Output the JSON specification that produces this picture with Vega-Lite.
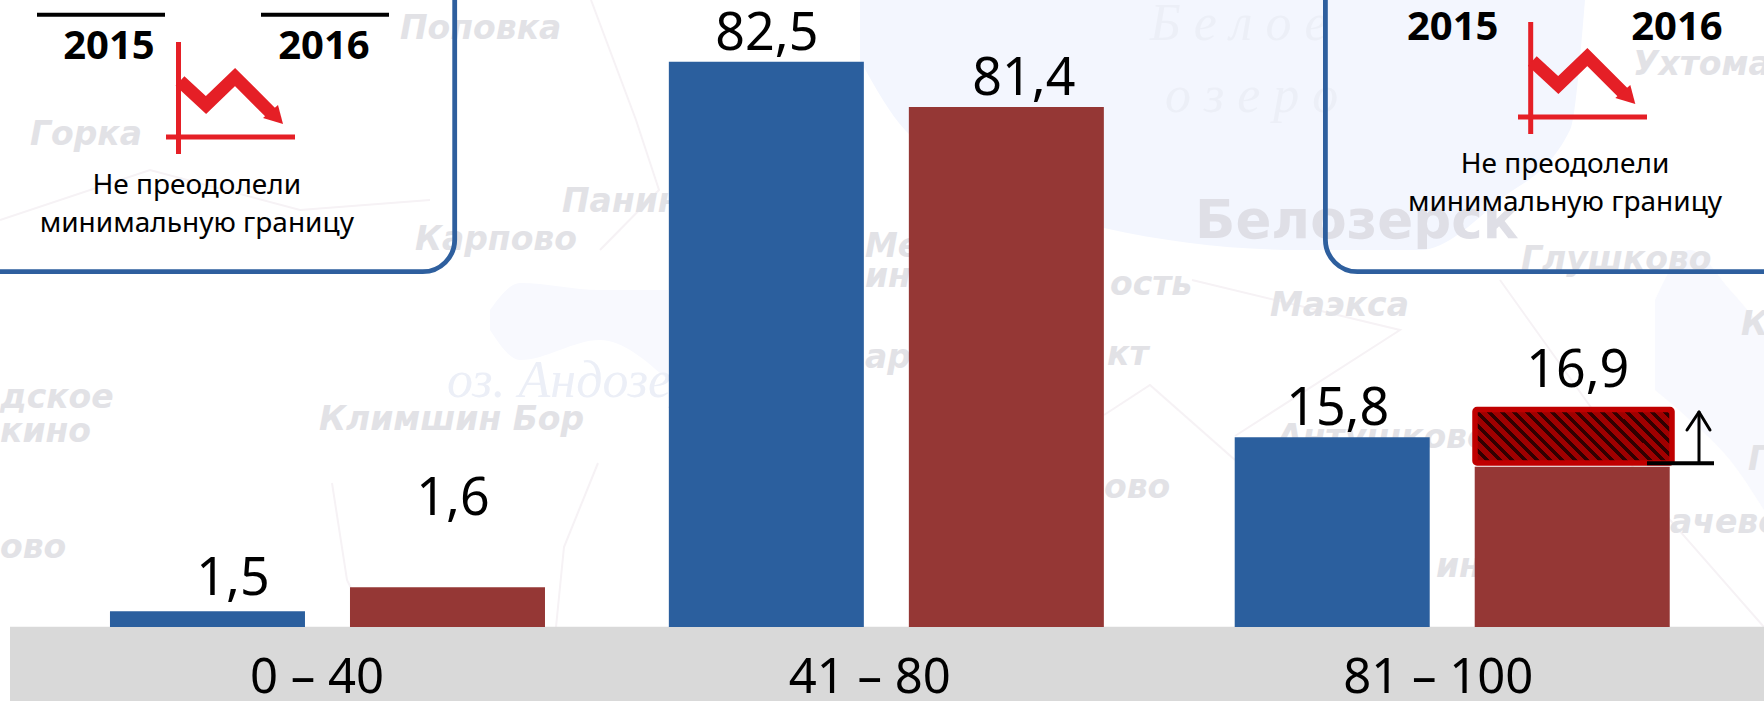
{
"$schema":"https://vega.github.io/schema/vega-lite/v6.json",
"width":1764,"height":627,
"autosize":"none",
"padding":{"left":0,"top":0,"right":0,"bottom":74},
"background":"#FFFFFF",
"config":{"view":{"stroke":null}},
"datasets":{
"bars":[
{"group":"0 – 40","year":"2015","value":1.5,"label":"1,5","drawn":2.3,"labelLevel":4.67},
{"group":"0 – 40","year":"2016","value":1.6,"label":"1,6","drawn":5.8,"labelLevel":16.35},
{"group":"41 – 80","year":"2015","value":82.5,"label":"82,5","drawn":82.5,"labelLevel":84.2},
{"group":"41 – 80","year":"2016","value":81.4,"label":"81,4","drawn":75.9,"labelLevel":77.7},
{"group":"81 – 100","year":"2015","value":15.8,"label":"15,8","drawn":27.7,"labelLevel":29.5},
{"group":"81 – 100","year":"2016","value":16.9,"label":"16,9","drawn":23.4,"labelLevel":35}
],
"map":[
{"t":"Поповка","x":400,"y":39,"k":"town"},
{"t":"Горка","x":30,"y":145,"k":"town"},
{"t":"Панино","x":562,"y":212,"k":"town"},
{"t":"Карпово","x":415,"y":250,"k":"town"},
{"t":"Глушково","x":1521,"y":270,"k":"town"},
{"t":"Маэкса","x":1270,"y":316,"k":"town"},
{"t":"Ухтома","x":1633,"y":75,"k":"town"},
{"t":"Антушково","x":1277,"y":448,"k":"town"},
{"t":"дское","x":0,"y":408,"k":"town"},
{"t":"кино","x":0,"y":442,"k":"town"},
{"t":"ово","x":0,"y":558,"k":"town"},
{"t":"Климшин Бор","x":319,"y":430,"k":"town"},
{"t":"ово","x":1104,"y":498,"k":"town"},
{"t":"ость","x":1110,"y":295,"k":"town"},
{"t":"кт","x":1107,"y":365,"k":"town"},
{"t":"Ме","x":865,"y":257,"k":"town"},
{"t":"ин","x":865,"y":287,"k":"town"},
{"t":"ар","x":865,"y":368,"k":"town"},
{"t":"ин","x":1436,"y":577,"k":"town"},
{"t":"ачево","x":1670,"y":533,"k":"town"},
{"t":"К","x":1741,"y":335,"k":"town"},
{"t":"Г","x":1748,"y":470,"k":"town"},
{"t":"Белозерск","x":1195,"y":238,"k":"city"},
{"t":"Б е л о е","x":1150,"y":40,"k":"lake"},
{"t":"о з е р о","x":1165,"y":112,"k":"lake"},
{"t":"оз. Андозеро","x":447,"y":397,"k":"lake"}
],
"water":[
{"w":"a","x":860,"y":0,"y2":60},
{"w":"a","x":905,"y":0,"y2":130},
{"w":"a","x":1000,"y":0,"y2":180},
{"w":"a","x":1104,"y":0,"y2":228},
{"w":"a","x":1300,"y":0,"y2":250},
{"w":"a","x":1420,"y":0,"y2":250},
{"w":"a","x":1500,"y":0,"y2":200},
{"w":"a","x":1570,"y":0,"y2":130},
{"w":"a","x":1585,"y":0,"y2":0}
],
"ponds":[
{"w":"b","x":490,"y":310,"y2":330},
{"w":"b","x":520,"y":283,"y2":360},
{"w":"b","x":600,"y":290,"y2":340},
{"w":"b","x":668,"y":290,"y2":380},
{"w":"c","x":1655,"y":300,"y2":390},
{"w":"c","x":1690,"y":250,"y2":420},
{"w":"c","x":1730,"y":290,"y2":460},
{"w":"c","x":1764,"y":330,"y2":510}
],
"roads":[
{"r":1,"i":1,"x":591,"y":0},{"r":1,"i":2,"x":636,"y":120},{"r":1,"i":3,"x":659,"y":190},{"r":1,"i":4,"x":600,"y":250},
{"r":2,"i":1,"x":332,"y":483},{"r":2,"i":2,"x":347,"y":580},{"r":2,"i":3,"x":370,"y":627},
{"r":3,"i":1,"x":598,"y":463},{"r":3,"i":2,"x":564,"y":547},{"r":3,"i":3,"x":556,"y":627},
{"r":4,"i":1,"x":1192,"y":280},{"r":4,"i":2,"x":1400,"y":330},{"r":4,"i":3,"x":1235,"y":436},
{"r":5,"i":1,"x":1104,"y":415},{"r":5,"i":2,"x":1150,"y":385},{"r":5,"i":3,"x":1235,"y":460},
{"r":6,"i":1,"x":1500,"y":280},{"r":6,"i":2,"x":1600,"y":420},{"r":6,"i":3,"x":1670,"y":520},{"r":6,"i":4,"x":1764,"y":627},
{"r":7,"i":1,"x":0,"y":220},{"r":7,"i":2,"x":150,"y":170},{"r":7,"i":3,"x":300,"y":210},{"r":7,"i":4,"x":430,"y":200}
],
"boxes":[
{"b":"left","x":-40,"x2":454.7,"y":-40,"y2":271.7},
{"b":"right","x":1325.4,"x2":1810,"y":-40,"y2":271.7}
],
"rules":[
{"k":"black","x":37,"x2":165,"y":14.7,"y2":14.7},
{"k":"black","x":261,"x2":389,"y":14.7,"y2":14.7},
{"k":"red","x":178.5,"x2":178.5,"y":42,"y2":154},
{"k":"red","x":166,"x2":295,"y":137,"y2":137},
{"k":"red","x":1530.7,"x2":1530.7,"y":22,"y2":134},
{"k":"red","x":1518,"x2":1647,"y":117,"y2":117}
],
"zig":[
{"icon":"left","x":180,"y":81},{"icon":"left","x":206,"y":105},{"icon":"left","x":235,"y":77},{"icon":"left","x":272,"y":114},
{"icon":"right","x":1532.3,"y":61},{"icon":"right","x":1558.3,"y":85},{"icon":"right","x":1587.3,"y":57},{"icon":"right","x":1624.3,"y":94}
],
"heads":[
{"icon":"left","x":263,"y":118,"y2":118},{"icon":"left","x":278,"y":105,"y2":122.6},{"icon":"left","x":283,"y":124,"y2":124},
{"icon":"right","x":1615.3,"y":98,"y2":98},{"icon":"right","x":1630.3,"y":85,"y2":102.6},{"icon":"right","x":1635.3,"y":104,"y2":104}
],
"notes":[
{"t":"2015","x":109,"y":59,"k":"year"},
{"t":"2016","x":324,"y":59,"k":"year"},
{"t":"2015","x":1452.7,"y":40,"k":"year"},
{"t":"2016","x":1677,"y":40,"k":"year"},
{"t":"Не преодолели","x":196.8,"y":194,"k":"body"},
{"t":"минимальную границу","x":196.8,"y":231.7,"k":"body"},
{"t":"Не преодолели","x":1565,"y":172.7,"k":"body"},
{"t":"минимальную границу","x":1565,"y":210.7,"k":"body"}
],
"strip":[{"x":10,"x2":1800,"y":626.7,"y2":720}],
"hatch":[{"x":1475,"x2":1672,"y":409.5,"y2":463}],
"limit":[
{"k":"base","x":1647,"x2":1714,"y":463.3,"y2":463.3},
{"k":"arrow","x":1699,"x2":1699,"y":463,"y2":413},
{"k":"arrow","x":1699,"x2":1687,"y":412,"y2":430},
{"k":"arrow","x":1699,"x2":1710,"y":412,"y2":430}
]
},
"resolve":{"scale":{"x":"independent","y":"independent"}},
"layer":[
{
"encoding":{
"x":{"field":"x","type":"quantitative","axis":null,"scale":{"domain":[0,1764],"range":[0,1764],"nice":false,"zero":false}},
"y":{"field":"y","type":"quantitative","axis":null,"scale":{"domain":[0,627],"range":[0,627],"nice":false,"zero":false}}
},
"layer":[
{"data":{"name":"water"},"mark":{"type":"area","color":"#F3F6FE","interpolate":"monotone"},"encoding":{"y2":{"field":"y2"},"detail":{"field":"w"}}},
{"data":{"name":"ponds"},"mark":{"type":"area","color":"#F8F9FE","interpolate":"monotone"},"encoding":{"y2":{"field":"y2"},"detail":{"field":"w"}}},
{"data":{"name":"roads"},"mark":{"type":"line","color":"#F6F2F5","strokeWidth":2},"encoding":{"detail":{"field":"r"},"order":{"field":"i"}}},
{"data":{"name":"map"},"transform":[{"filter":"datum.k=='town'"}],"mark":{"type":"text","font":"DejaVu Sans","fontWeight":"bold","fontStyle":"italic","fontSize":33,"align":"left","baseline":"alphabetic","color":"#E2E2E6"},"encoding":{"text":{"field":"t"}}},
{"data":{"name":"map"},"transform":[{"filter":"datum.k=='city'"}],"mark":{"type":"text","font":"DejaVu Sans","fontWeight":"bold","fontSize":53,"align":"left","baseline":"alphabetic","color":"#DFDFE6"},"encoding":{"text":{"field":"t"}}},
{"data":{"name":"map"},"transform":[{"filter":"datum.k=='lake'"}],"mark":{"type":"text","font":"Liberation Serif","fontStyle":"italic","fontSize":52,"align":"left","baseline":"alphabetic","color":"#ECEFF7"},"encoding":{"text":{"field":"t"}}},
{"data":{"name":"boxes"},"mark":{"type":"rect","fill":null,"stroke":"#2E5F9E","strokeWidth":4.8,"cornerRadius":32},"encoding":{"x2":{"field":"x2"},"y2":{"field":"y2"}}},
{"data":{"name":"rules"},"transform":[{"filter":"datum.k=='black'"}],"mark":{"type":"rule","color":"#000000","strokeWidth":4},"encoding":{"x2":{"field":"x2"},"y2":{"field":"y2"}}},
{"data":{"name":"rules"},"transform":[{"filter":"datum.k=='red'"}],"mark":{"type":"rule","color":"#E51F26","strokeWidth":5},"encoding":{"x2":{"field":"x2"},"y2":{"field":"y2"}}},
{"data":{"name":"zig"},"mark":{"type":"line","color":"#E51F26","strokeWidth":13,"strokeJoin":"miter","strokeCap":"butt"},"encoding":{"detail":{"field":"icon"}}},
{"data":{"name":"heads"},"mark":{"type":"area","color":"#E51F26"},"encoding":{"y2":{"field":"y2"},"detail":{"field":"icon"}}},
{"data":{"name":"notes"},"transform":[{"filter":"datum.k=='year'"}],"mark":{"type":"text","font":"Noto Sans","fontWeight":"bold","fontSize":40,"align":"center","baseline":"alphabetic","color":"#000000"},"encoding":{"text":{"field":"t"}}},
{"data":{"name":"notes"},"transform":[{"filter":"datum.k=='body'"}],"mark":{"type":"text","font":"Noto Sans","fontSize":28,"align":"center","baseline":"alphabetic","color":"#000000"},"encoding":{"text":{"field":"t"}}},
{"data":{"name":"strip"},"mark":{"type":"rect","color":"#D9D9D9"},"encoding":{"x2":{"field":"x2"},"y2":{"field":"y2"}}}
]
},
{
"data":{"name":"bars"},
"transform":[{"filter":"datum.group=='41 – 80'"}],
"mark":{"type":"bar"},
"encoding":{
"x":{"field":"group","type":"nominal","sort":null,"axis":null,
"scale":{"type":"band","domain":["0 – 40","41 – 80","81 – 100"],"range":[42.8,1729.9],"paddingInner":0,"paddingOuter":0}},
"xOffset":{"field":"year","type":"nominal","scale":{"domain":["2015","2016"],"paddingInner":0.1875,"paddingOuter":0.2653}},
"y":{"field":"drawn","type":"quantitative","axis":null,"scale":{"domain":[0,91.53],"nice":false,"zero":true}},
"color":{"field":"year","type":"nominal","legend":null,"scale":{"domain":["2015","2016"],"range":["#2B5F9E","#953735"]}}
}
},
{
"data":{"name":"bars"},
"encoding":{
"x":{"field":"group","type":"nominal","sort":null,"title":null,
"scale":{"type":"band","domain":["0 – 40","41 – 80","81 – 100"],"range":[46.3,1733.4],"paddingInner":0,"paddingOuter":0},
"axis":{"orient":"bottom","domain":false,"ticks":false,"tickSize":0,"grid":false,"title":null,"labelAngle":0,"labelOverlap":false,"labelBound":false,"labelFlush":false,"labelLimit":600,"labelFont":"Noto Sans","labelFontSize":49,"labelColor":"#000000","labelBaseline":"alphabetic","labelPadding":65,"zindex":1,
"labelOffset":{"expr":"datum.value=='0 – 40'?-10.5:datum.value=='41 – 80'?-20:-14"}}},
"xOffset":{"field":"year","type":"nominal","scale":{"domain":["2015","2016"],"paddingInner":0.1875,"paddingOuter":0.2653}},
"y":{"field":"drawn","type":"quantitative","axis":null,"scale":{"domain":[0,91.53],"nice":false,"zero":true}},
"color":{"field":"year","type":"nominal","legend":null,"scale":{"domain":["2015","2016"],"range":["#2B5F9E","#953735"]}}
},
"layer":[
{"transform":[{"filter":"datum.group!='41 – 80'"}],"mark":{"type":"bar"}},
{"transform":[{"filter":"datum.label=='1,5'"}],"mark":{"type":"text","dx":25.5,"font":"Noto Sans","fontSize":52,"align":"center","baseline":"alphabetic"},"encoding":{"y":{"field":"labelLevel","type":"quantitative"},"text":{"field":"label"},"color":{"value":"#000000"}}},
{"transform":[{"filter":"datum.label=='1,6'||datum.label=='15,8'||datum.label=='16,9'"}],"mark":{"type":"text","dx":5.5,"font":"Noto Sans","fontSize":52,"align":"center","baseline":"alphabetic"},"encoding":{"y":{"field":"labelLevel","type":"quantitative"},"text":{"field":"label"},"color":{"value":"#000000"}}},
{"transform":[{"filter":"datum.label=='82,5'"}],"mark":{"type":"text","dx":-3,"font":"Noto Sans","fontSize":52,"align":"center","baseline":"alphabetic"},"encoding":{"y":{"field":"labelLevel","type":"quantitative"},"text":{"field":"label"},"color":{"value":"#000000"}}},
{"transform":[{"filter":"datum.label=='81,4'"}],"mark":{"type":"text","dx":14,"font":"Noto Sans","fontSize":52,"align":"center","baseline":"alphabetic"},"encoding":{"y":{"field":"labelLevel","type":"quantitative"},"text":{"field":"label"},"color":{"value":"#000000"}}}
]
},
{
"encoding":{
"x":{"field":"x","type":"quantitative","axis":null,"scale":{"domain":[0,1764],"range":[0,1764],"nice":false,"zero":false}},
"y":{"field":"y","type":"quantitative","axis":null,"scale":{"domain":[0,627],"range":[0,627],"nice":false,"zero":false}}
},
"layer":[
{"data":{"name":"hatch"},"mark":{"type":"rect","stroke":"#C00000","strokeWidth":5.5,"cornerRadius":2,"fill":{"gradient":"linear","x1":0,"y1":1,"x2":1.185,"y2":0.678,"stops":[
{"offset":0,"color":"#300000"},{"offset":0.02,"color":"#300000"},{"offset":0.02,"color":"#A00000"},{"offset":0.05,"color":"#A00000"},
{"offset":0.05,"color":"#300000"},{"offset":0.07,"color":"#300000"},{"offset":0.07,"color":"#A00000"},{"offset":0.1,"color":"#A00000"},
{"offset":0.1,"color":"#300000"},{"offset":0.12,"color":"#300000"},{"offset":0.12,"color":"#A00000"},{"offset":0.15,"color":"#A00000"},
{"offset":0.15,"color":"#300000"},{"offset":0.17,"color":"#300000"},{"offset":0.17,"color":"#A00000"},{"offset":0.2,"color":"#A00000"},
{"offset":0.2,"color":"#300000"},{"offset":0.22,"color":"#300000"},{"offset":0.22,"color":"#A00000"},{"offset":0.25,"color":"#A00000"},
{"offset":0.25,"color":"#300000"},{"offset":0.27,"color":"#300000"},{"offset":0.27,"color":"#A00000"},{"offset":0.3,"color":"#A00000"},
{"offset":0.3,"color":"#300000"},{"offset":0.32,"color":"#300000"},{"offset":0.32,"color":"#A00000"},{"offset":0.35,"color":"#A00000"},
{"offset":0.35,"color":"#300000"},{"offset":0.37,"color":"#300000"},{"offset":0.37,"color":"#A00000"},{"offset":0.4,"color":"#A00000"},
{"offset":0.4,"color":"#300000"},{"offset":0.42,"color":"#300000"},{"offset":0.42,"color":"#A00000"},{"offset":0.45,"color":"#A00000"},
{"offset":0.45,"color":"#300000"},{"offset":0.47,"color":"#300000"},{"offset":0.47,"color":"#A00000"},{"offset":0.5,"color":"#A00000"},
{"offset":0.5,"color":"#300000"},{"offset":0.52,"color":"#300000"},{"offset":0.52,"color":"#A00000"},{"offset":0.55,"color":"#A00000"},
{"offset":0.55,"color":"#300000"},{"offset":0.57,"color":"#300000"},{"offset":0.57,"color":"#A00000"},{"offset":0.6,"color":"#A00000"},
{"offset":0.6,"color":"#300000"},{"offset":0.62,"color":"#300000"},{"offset":0.62,"color":"#A00000"},{"offset":0.65,"color":"#A00000"},
{"offset":0.65,"color":"#300000"},{"offset":0.67,"color":"#300000"},{"offset":0.67,"color":"#A00000"},{"offset":0.7,"color":"#A00000"},
{"offset":0.7,"color":"#300000"},{"offset":0.72,"color":"#300000"},{"offset":0.72,"color":"#A00000"},{"offset":0.75,"color":"#A00000"},
{"offset":0.75,"color":"#300000"},{"offset":0.77,"color":"#300000"},{"offset":0.77,"color":"#A00000"},{"offset":0.8,"color":"#A00000"},
{"offset":0.8,"color":"#300000"},{"offset":0.82,"color":"#300000"},{"offset":0.82,"color":"#A00000"},{"offset":0.85,"color":"#A00000"},
{"offset":0.85,"color":"#300000"},{"offset":0.87,"color":"#300000"},{"offset":0.87,"color":"#A00000"},{"offset":0.9,"color":"#A00000"},
{"offset":0.9,"color":"#300000"},{"offset":0.92,"color":"#300000"},{"offset":0.92,"color":"#A00000"},{"offset":0.95,"color":"#A00000"},
{"offset":0.95,"color":"#300000"},{"offset":0.97,"color":"#300000"},{"offset":0.97,"color":"#A00000"},{"offset":1,"color":"#A00000"}
]}},"encoding":{"x2":{"field":"x2"},"y2":{"field":"y2"}}},
{"data":{"name":"limit"},"transform":[{"filter":"datum.k=='base'"}],"mark":{"type":"rule","color":"#000000","strokeWidth":4},"encoding":{"x2":{"field":"x2"},"y2":{"field":"y2"}}},
{"data":{"name":"limit"},"transform":[{"filter":"datum.k=='arrow'"}],"mark":{"type":"rule","color":"#000000","strokeWidth":3,"strokeCap":"round"},"encoding":{"x2":{"field":"x2"},"y2":{"field":"y2"}}}
]
}
]
}
